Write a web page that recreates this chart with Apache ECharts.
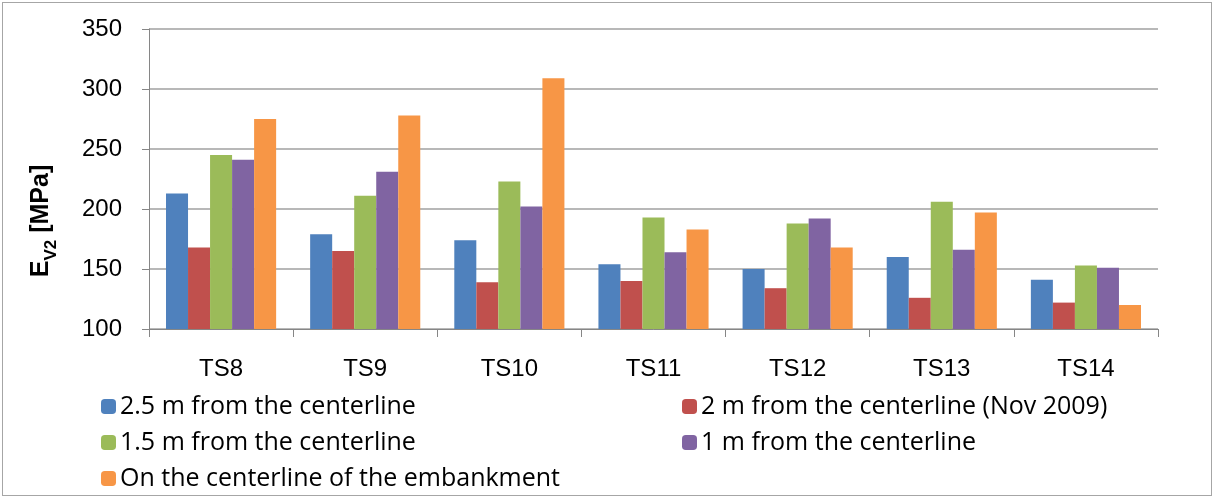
<!DOCTYPE html>
<html><head><meta charset="utf-8">
<script src="https://cdn.jsdelivr.net/npm/echarts@6/dist/echarts.min.js"></script>
<style>
html,body{margin:0;padding:0;background:#fff;}
#wrap{position:absolute;left:2px;top:2px;width:1210px;height:494px;border:1px solid #a6a6a6;box-sizing:border-box;}
#c{position:absolute;left:0;top:0;width:1216px;height:499px;}
</style>
</head><body>
<div id="wrap"></div>
<div id="c"></div>
<script>
const categories = ['TS8','TS9','TS10','TS11','TS12','TS13','TS14'];
const seriesNames = ['2.5 m from the centerline','2 m from the centerline (Nov 2009)','1.5 m from the centerline','1 m from the centerline','On the centerline of the embankment'];
const s25 = [213,179,174,154,150,160,141];
const s2 = [168,165,139,140,134,126,122];
const s15 = [245,211,223,193,188,206,153];
const s1 = [241,231,202,164,192,166,151];
const sC = [275,278,309,183,168,197,120];
const colors = ['#4F81BD','#C0504D','#9BBB59','#8064A2','#F79646'];
const allData = [s25,s2,s15,s1,sC];
const yTicks = {min:100,max:350,interval:50};

const font = 'Liberation Sans, Arial, sans-serif';
const lfont = 'Open Sans, Liberation Sans, sans-serif';
const chart = echarts.init(document.getElementById('c'));
const legendCommon = {orient:'vertical',top:389,itemWidth:15,itemHeight:15,itemGap:11,
  textStyle:{fontSize:25,fontFamily:lfont,color:'#000',lineHeight:25,padding:[0,0,0,-1]}};
chart.setOption({
  animation:false,
  color:colors,
  grid:{left:149,right:58,top:29,height:300},
  xAxis:{type:'category',data:categories,
    axisLine:{lineStyle:{color:'#868686',width:1}},
    axisTick:{show:true,length:8,lineStyle:{color:'#868686'}},
    axisLabel:{color:'#000',fontSize:24,fontFamily:font,margin:28}},
  yAxis:{type:'value',min:yTicks.min,max:yTicks.max,interval:yTicks.interval,
    axisLine:{show:true,lineStyle:{color:'#868686'}},
    axisTick:{show:true,length:7,lineStyle:{color:'#868686'}},
    splitLine:{lineStyle:{color:'#a0a0a0',width:1.5}},
    axisLabel:{color:'#000',fontSize:24,fontFamily:font,margin:27}},
  graphic:[{type:'text',x:40,y:221,rotation:Math.PI/2,
    style:{text:'{e|E}{s|V2}{e| [MPa]}',align:'center',verticalAlign:'middle',
      rich:{
        e:{fontSize:25,fontWeight:'bold',fontFamily:font,fill:'#000',verticalAlign:'bottom',lineHeight:28},
        s:{fontSize:17,fontWeight:'bold',fontFamily:font,fill:'#000',verticalAlign:'bottom',lineHeight:28,padding:[0,0,-6,0]}
      }}}],
  legend:[
    Object.assign({data:[seriesNames[0],seriesNames[2],seriesNames[4]],left:96},legendCommon),
    Object.assign({data:[seriesNames[1],seriesNames[3]],left:677},legendCommon)
  ],
  series: allData.map((d,i)=>({
    name:seriesNames[i],type:'bar',data:d,barGap:'0%',barCategoryGap:'23.6%',
    itemStyle:{color:colors[i]}
  }))
});
</script>
</body></html>
